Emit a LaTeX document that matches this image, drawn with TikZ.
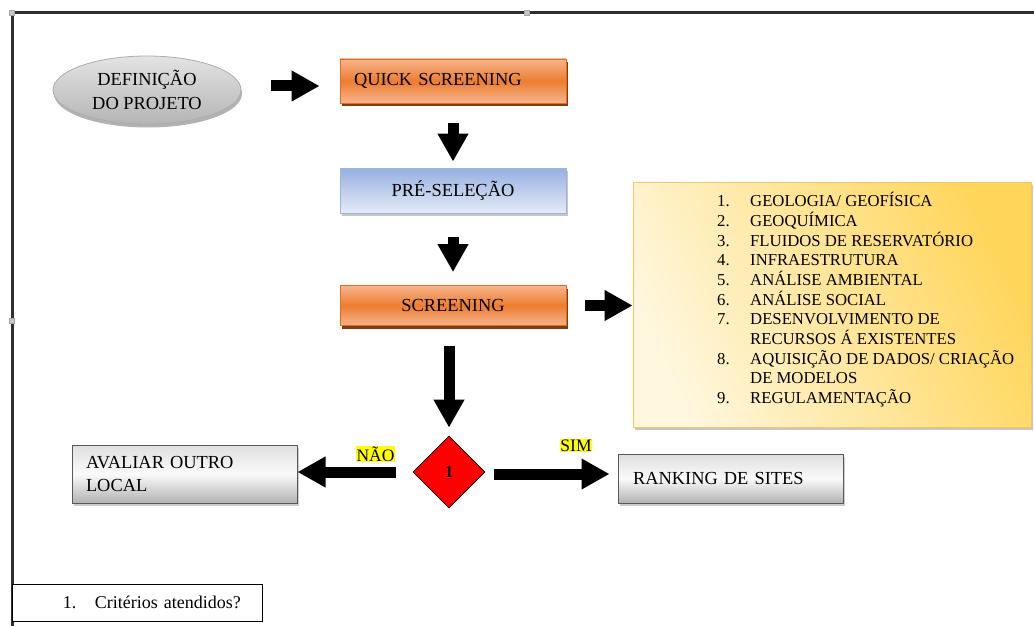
\documentclass[tikz,border=0pt]{standalone}
\usepackage{fontspec}
\setmainfont{Liberation Serif}
\usetikzlibrary{shapes.geometric,shadows,arrows.meta}

\definecolor{orgmid}{HTML}{ED7D31}
\definecolor{orglt}{HTML}{F6B58C}
\definecolor{orgedge}{HTML}{E46C1E}
\definecolor{orgdk}{HTML}{843C0C}
\definecolor{bluetop}{HTML}{97AFE0}
\definecolor{bluebot}{HTML}{E4EBF7}
\definecolor{blueedge}{HTML}{9CB3DE}
\definecolor{yellt}{HTML}{FFF7DE}
\definecolor{yeldk}{HTML}{FFD55A}
\definecolor{yeledge}{HTML}{F2C85A}
\definecolor{hilite}{HTML}{FFFF00}

\newcommand{\mainsz}{\fontsize{18.4}{22.5}\selectfont}
\newcommand{\listsz}{\fontsize{16.7}{19.2}\selectfont}
\newcommand{\notesz}{\fontsize{18}{21}\selectfont}

\tikzset{
  stagebox/.style={rectangle, inner sep=0pt, font=\mainsz,
    minimum width=226pt, minimum height=44pt},
  orangebox/.style={stagebox, draw=orgedge, line width=0.8pt,
    top color=orglt, bottom color=orglt, middle color=orgmid,
    general shadow={shadow xshift=1.5pt, shadow yshift=-3pt, fill=orgdk}},
  bluebox/.style={stagebox, draw=blueedge, line width=0.8pt,
    top color=bluetop, bottom color=bluebot,
    general shadow={shadow xshift=1.5pt, shadow yshift=-3pt, fill=gray!45}},
  greybox/.style={rectangle, inner sep=0pt, font=\mainsz, align=left,
    draw=gray!70!black, line width=1pt,
    top color=gray!25, bottom color=gray!60, middle color=gray!4,
    general shadow={shadow xshift=1.5pt, shadow yshift=-3pt, fill=gray!40}},
  fat/.style={line width=11pt, draw=black,
    -{Triangle[length=28pt, width=29pt]}},
  tag/.style={fill=hilite, inner sep=0.6pt, font=\fontsize{17.5}{19}\selectfont},
  handle/.style={draw=gray!70, fill=gray!45, minimum size=5pt, inner sep=0pt}
}

\begin{document}
\begin{tikzpicture}[x=1pt, y=-1pt]
\useasboundingbox (0,0) rectangle (1034,626);

% canvas frame
\draw[line width=3pt, black!82] (12,626) -- (12,13) -- (1034,13);
\node[handle] (h1) at (12,13) {};
\node[handle] (h2) at (527,13) {};
\node[handle] (h3) at (12,321) {};

% project definition
\node[ellipse, draw=gray!65, line width=0.8pt, top color=gray!22, bottom color=gray!58,
  minimum width=188pt, minimum height=68pt, inner sep=0pt, align=center,
  font=\fontsize{18.4}{23.5}\selectfont,
  general shadow={shadow xshift=1pt, shadow yshift=-3.5pt, fill=gray!60}]
  (proj) at (147,90) {DEFINIÇÃO\\DO PROJETO};

% main stages
\node[orangebox, text width=198pt, align=left] (qs) at (453,81) {QUICK SCREENING};
\node[bluebox, minimum height=45pt] (ps) at (453,190.5) {PRÉ-SELEÇÃO};
\node[orangebox, minimum height=40pt] (sc) at (453,305.5) {SCREENING};

% criteria box
\node[rectangle, draw=yeledge, line width=0.8pt,
  shading=axis, top color=yeldk, bottom color=yellt, shading angle=-65,
  minimum width=398pt, minimum height=245pt, inner sep=0pt,
  general shadow={shadow xshift=1.5pt, shadow yshift=-3pt, fill=gray!45}]
  (crit) at (832,304.5) {};
\node[anchor=base west, inner sep=0pt, font=\listsz] (items) at (717,206) {%
  \begin{tabular}[t]{@{}p{33pt}@{}l@{}}
  1. & GEOLOGIA/ GEOFÍSICA\\
  2. & GEOQUÍMICA\\
  3. & FLUIDOS DE RESERVATÓRIO\\
  4. & INFRAESTRUTURA\\
  5. & ANÁLISE AMBIENTAL\\
  6. & ANÁLISE SOCIAL\\
  7. & DESENVOLVIMENTO DE\\
     & RECURSOS Á EXISTENTES\\
  8. & AQUISIÇÃO DE DADOS/ CRIAÇÃO\\
     & DE MODELOS\\
  9. & REGULAMENTAÇÃO
  \end{tabular}};

% decision
\node[diamond, draw=black, line width=0.8pt, fill=red, minimum width=72pt,
  minimum height=72pt, inner sep=0pt, font=\bfseries\fontsize{17}{19}\selectfont]
  (dec) at (449,472) {1};

% outcomes
\node[greybox, minimum width=225pt, minimum height=58pt, text width=197pt]
  (av) at (184.5,474) {AVALIAR OUTRO\\LOCAL};
\node[greybox, minimum width=225pt, minimum height=49pt, text width=195pt]
  (rk) at (730.5,478.5) {RANKING DE SITES};

\node[tag] (nao) at (375.5,454) {NÃO};
\node[tag] (sim) at (576,445.5) {SIM};

% legend
\node[rectangle, draw=black, line width=0.8pt, fill=white, minimum width=250pt,
  minimum height=37pt, inner sep=0pt, text width=250pt, align=left, font=\notesz]
  (note) at (137,602.5) {\hspace*{51pt}\makebox[32pt][l]{1.}Critérios atendidos?};

% connectors
\draw[fat, shorten <=30pt, shorten >=20pt] ([yshift=4pt]proj.east) -- ([yshift=-5pt]qs.west);
\draw[fat, shorten <=20pt, shorten >=6pt] (qs.south) -- (ps.north);
\draw[fat, shorten <=24pt, shorten >=13pt] (ps.south) -- (sc.north);
\draw[fat, shorten <=19pt] (sc.east) -- (sc.east -| crit.west);
\draw[fat, shorten <=20pt, shorten >=8pt] (dec.north |- sc.south) -- (dec.north);
\draw[fat, shorten <=17pt] (dec.west) -- (dec.west -| av.east);
\draw[fat, shorten <=9pt, shorten >=8pt] ([yshift=-2pt]dec.east) -- ([yshift=-2pt]dec.east -| rk.west);
\end{tikzpicture}
\end{document}
